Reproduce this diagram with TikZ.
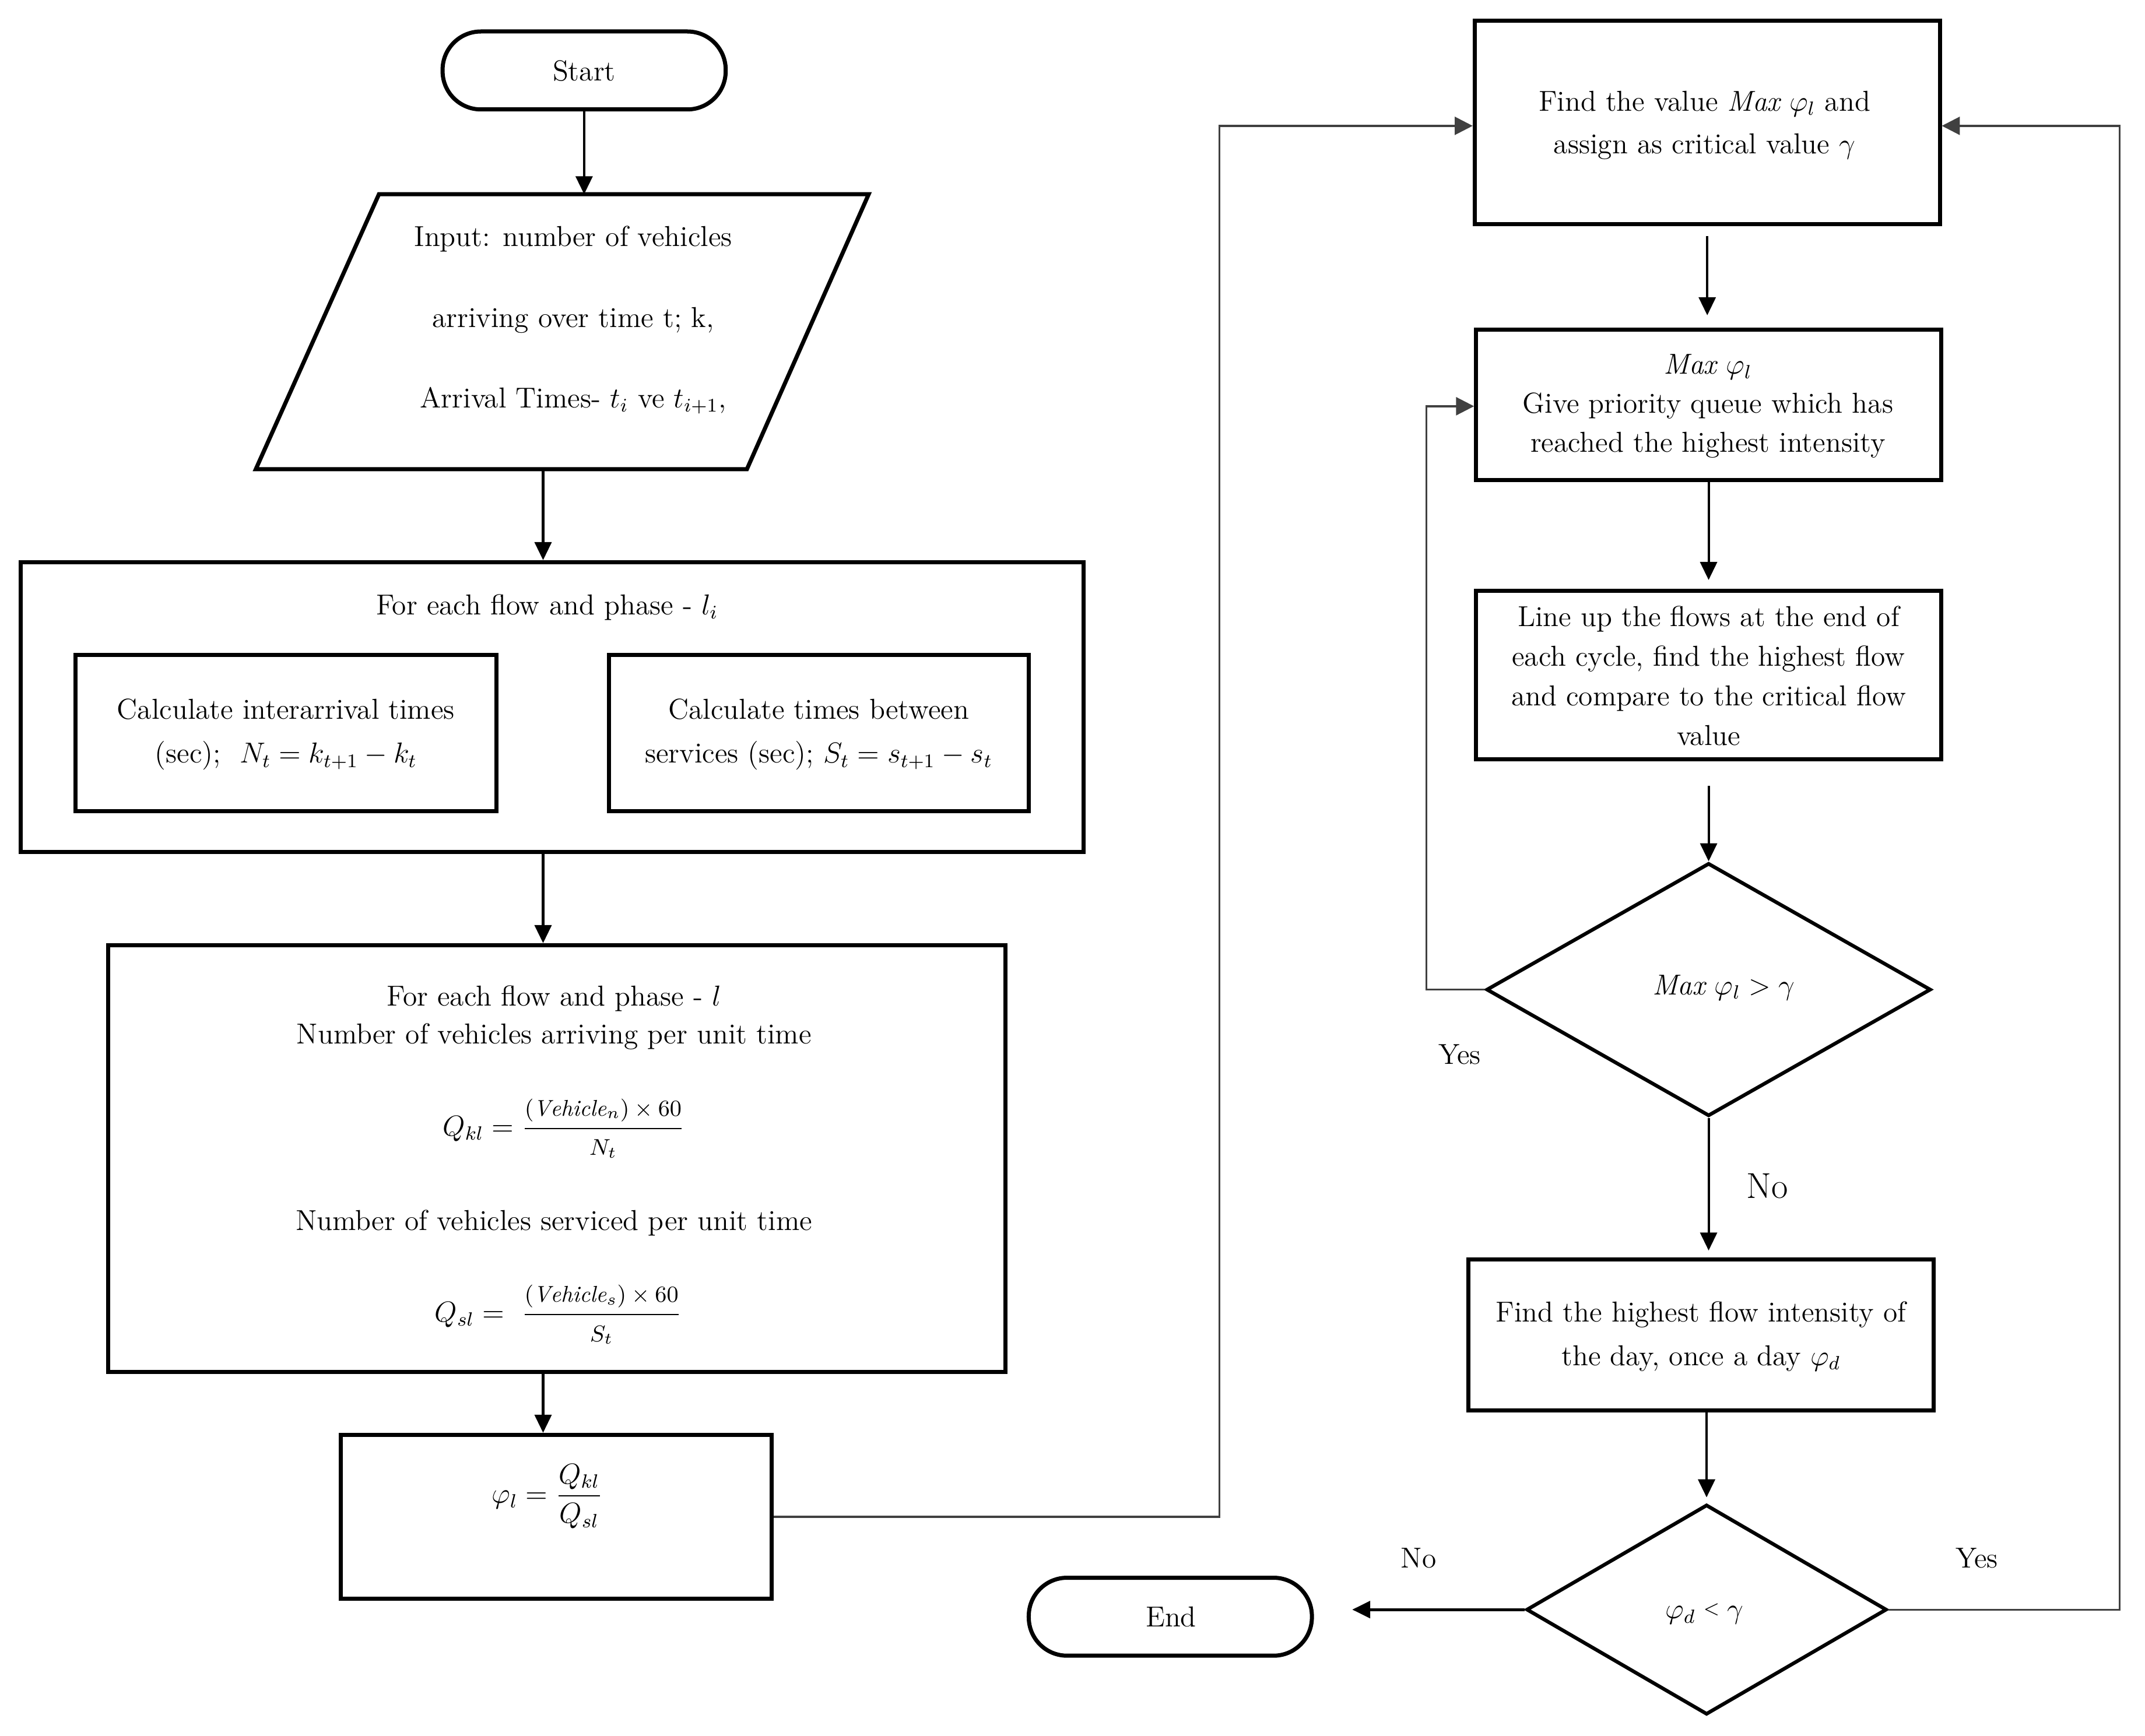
\documentclass[tikz,border=0pt]{standalone}
\usepackage{fix-cm}
\usepackage{amsmath}
\usepackage{fontspec}
\usetikzlibrary{shapes.geometric,arrows.meta}
\newcommand{\fracpart}[1]{\mbox{\fontsize{9.5}{11}\selectfont$#1$}}
\tikzset{
  box/.style={draw, line width=1.7pt, rectangle, inner sep=0pt},
  term/.style={draw, line width=1.7pt, rectangle, rounded corners=0.56cm, inner sep=0pt, minimum width=4.14cm, minimum height=1.14cm},
  dia/.style={draw, line width=1.5pt, diamond, inner sep=0pt},
  arr/.style={line width=1pt, -{Triangle[length=7.5pt,width=7pt]}},
  lp/.style={line width=0.8pt, draw=black!75},
  lparr/.style={lp, -{Triangle[length=7.5pt,width=7.5pt]}},
  tx/.style={align=center, inner sep=0pt, font=\fontsize{12}{#1}\selectfont},
  tx/.default=16.5,
}
\begin{document}
\begin{tikzpicture}[x=0.02cm,y=-0.02cm]
\useasboundingbox (0,0) rectangle (1568,1269);

% ---------- left column ----------
\node[term] (start) at (427,51.5) {};
\node[tx] (startT) at (427,52) {Start};

\draw[line width=1.7pt] (277,142) -- (635,142) -- (546,343) -- (187,343) -- cycle;
\coordinate (parTop) at (427,142);
\coordinate (parBot) at (397,343);
\node[tx=33.6] (inp) at (419,234) {Input: number of vehicles\\ arriving over time t; k,\\ Arrival Times- $t_i$ ve $t_{i+1}$,};

\node[box, minimum width=15.54cm, minimum height=4.24cm] (b1) at (403.5,517) {};
\node[tx] (b1T) at (400,444) {For each flow and phase - $l_i$};
\node[box, minimum width=6.16cm, minimum height=2.28cm] (bA) at (209,536) {};
\node[tx=18.2] (bAT) at (209,537) {Calculate interarrival times\\ (sec);\ \ $N_t = k_{t+1} - k_t$};
\node[box, minimum width=6.14cm, minimum height=2.28cm] (bB) at (598.5,536) {};
\node[tx=18.2] (bBT) at (598.5,537) {Calculate times between\\ services (sec); $S_t = s_{t+1} - s_t$};

\node[box, minimum width=13.12cm, minimum height=6.24cm] (b2) at (407,847) {};
\node[tx] (b2a) at (405,730) {For each flow and phase - $l$};
\node[tx] (b2b) at (405,758) {Number of vehicles arriving per unit time};
\node[tx] (b2c) at (412,825) {$Q_{kl} = \dfrac{\fracpart{(\mathit{Vehicle}_n)\times 60}}{\fracpart{N_t}}$};
\node[tx] (b2d) at (405,894) {Number of vehicles serviced per unit time};
\node[tx] (b2e) at (408,961) {$Q_{sl} =\ \dfrac{\fracpart{(\mathit{Vehicle}_s)\times 60}}{\fracpart{S_t}}$};

\node[box, minimum width=6.3cm, minimum height=2.4cm] (b3) at (406.5,1109) {};
\node[tx] (b3T) at (400,1094) {$\varphi_l = \dfrac{Q_{kl}}{Q_{sl}}$};

\node[term] (endN) at (855.5,1182) {};
\node[tx] (endT) at (856,1182) {End};

% ---------- right column ----------
\node[box, minimum width=6.8cm, minimum height=2.98cm] (F1) at (1248,89.5) {};
\node[tx=17.6] (F1T) at (1246,91.5) {Find the value $\mathit{Max}\ \varphi_l$ and\\ assign as critical value $\gamma$};

\node[box, minimum width=6.8cm, minimum height=2.2cm] (F2) at (1249,296) {};
\node[tx=16.2] (F2T) at (1248.5,297) {$\mathit{Max}\ \varphi_l$\\ Give priority queue which has\\ reached the highest intensity};

\node[box, minimum width=6.8cm, minimum height=2.46cm] (F3) at (1249,493.5) {};
\node[tx=16.5] (F3T) at (1249,494) {Line up the flows at the end of\\ each cycle, find the highest flow\\ and compare to the critical flow\\ value};

\node[dia, minimum width=6.5cm, minimum height=3.7cm] (D1) at (1249,723.5) {};
\node[tx] (D1T) at (1260,722) {$\mathit{Max}\ \varphi_l > \gamma$};

\node[box, minimum width=6.8cm, minimum height=2.21cm] (F4) at (1243.5,976) {};
\node[tx=18.2] (F4T) at (1243.5,977) {Find the highest flow intensity of\\ the day, once a day $\varphi_d$};

\node[dia, minimum width=5.27cm, minimum height=3.07cm] (D2) at (1247.5,1176.8) {};
\node[tx] (D2T) at (1246,1180) {$\varphi_d \mathrel{\raisebox{0.35ex}{$\scriptstyle<$}} \gamma$};

% labels
\node[tx] (yes1) at (1067,771) {Yes};
\node[tx, font=\fontsize{15}{18}\selectfont] (no1) at (1292,867) {No};
\node[tx] (no2) at (1037,1139) {No};
\node[tx] (yes2) at (1445,1139) {Yes};

% ---------- connectors ----------
\coordinate (xL) at (397,0);
\draw[arr] (start.south) -- (parTop);
\draw[arr] (parBot) -- (b1.north -| xL);
\draw[arr] (b1.south -| xL) -- (b2.north -| xL);
\draw[arr] (b2.south -| xL) -- (b3.north -| xL);

\draw[arr, shorten <=0.14cm, shorten >=0.18cm] (F1.south) -- (F1.south |- F2.north);
\draw[arr, shorten >=0.13cm] (F2.south) -- (F2.south |- F3.north);
\draw[arr, shorten <=0.36cm] (F3.south) -- (F3.south |- D1.north);
\draw[arr, shorten >=0.1cm] (D1.south) -- (D1.south |- F4.north);
\draw[arr, shorten >=0.08cm] (D2.north |- F4.south) -- (D2.north);
\draw[arr, line width=1.3pt, shorten >=0.56cm] (D2.west) -- (D2.west -| endN.east);

\coordinate (cM) at (891.5,92);
\draw[lparr] (b3.east) -| (cM) -- (F1.west |- cM);
\coordinate (cL) at (1042.6,297);
\draw[lparr] (D1.west) -| (cL) -- (F2.west |- cL);
\coordinate (cR) at (1549.5,92);
\draw[lparr] (D2.east) -| (cR) -- (F1.east |- cR);
\end{tikzpicture}
\end{document}
